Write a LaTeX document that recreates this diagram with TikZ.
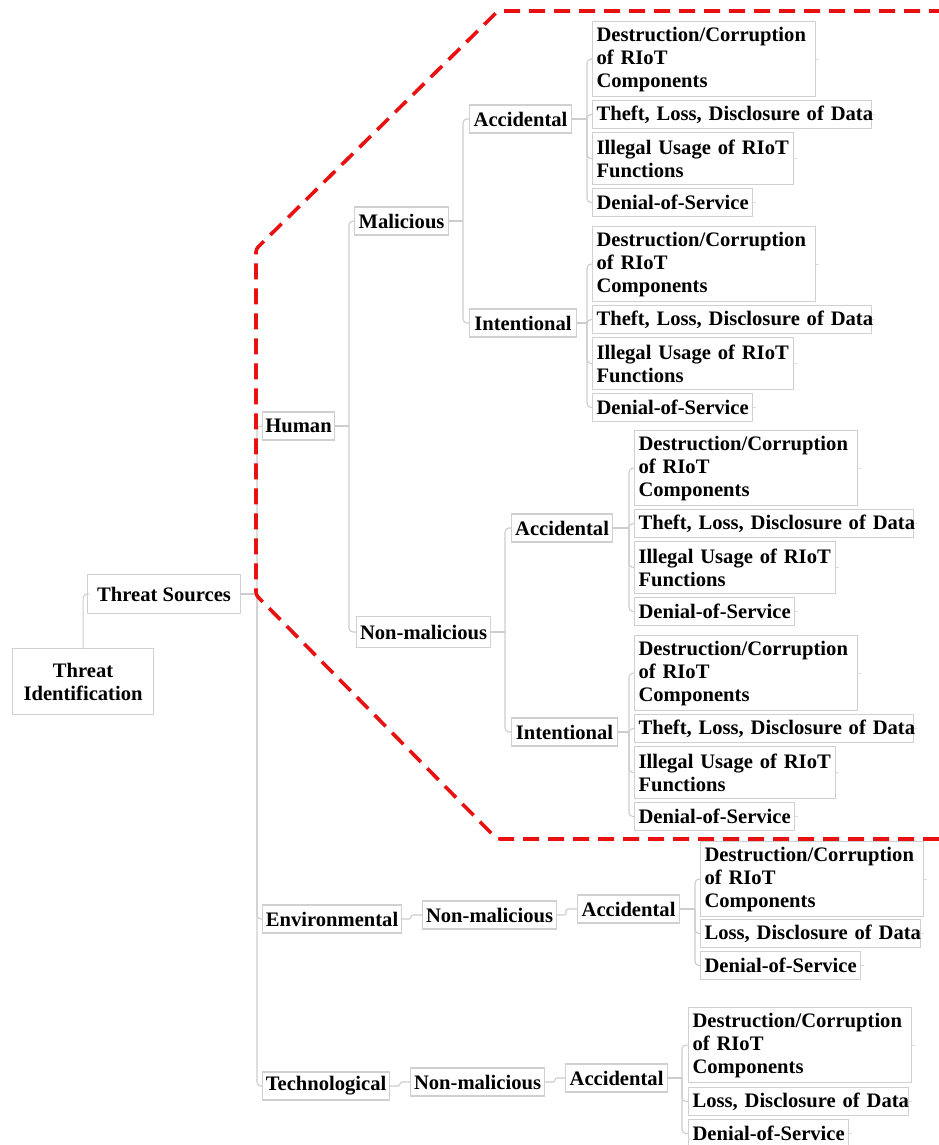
\documentclass[tikz,border=0pt]{standalone}
\usepackage{fontspec}
\setmainfont{Liberation Serif}
\definecolor{boxgray}{RGB}{208,208,208}
\definecolor{linkgray}{RGB}{205,205,205}
\definecolor{zonered}{RGB}{232,16,16}
\newcommand\lbl{\fontsize{20.6}{23}\selectfont\bfseries}
\tikzset{
  box/.style={draw=boxgray, line width=1.1pt, fill=white, font=\lbl,
    inner xsep=4pt, inner ysep=4pt, anchor=north west, align=left},
  mid/.style={draw=boxgray, line width=1.1pt, fill=white, font=\lbl,
    inner xsep=2pt, inner ysep=4pt, anchor=west, align=center, minimum height=28pt},
  link/.style={draw=linkgray, line width=1.1pt, rounded corners=4pt},
  jog/.style={draw=linkgray, line width=1.1pt, rounded corners=2pt},
  tail/.style={draw=linkgray!70, line width=0.8pt},
  zone/.style={draw=zonered, line width=3.6pt, dash pattern=on 16pt off 9pt, rounded corners=3pt}
}
\begin{document}
\begin{tikzpicture}[x=1pt, y=-1pt]
\useasboundingbox (0,0) rectangle (938,1145);

% spine positions
\coordinate (sTS) at (257,0);
\coordinate (sH) at (349,0);
\coordinate (sM) at (463,0);
\coordinate (sN) at (505,0);
\coordinate (sMA) at (587,0);
\coordinate (sNA) at (629,0);
\coordinate (sEA) at (695,0);
\coordinate (sTA) at (682,0);
\coordinate (jE1) at (411,0);
\coordinate (jE2) at (566,0);
\coordinate (jT1) at (400,0);
\coordinate (jT2) at (555,0);

% root and first level
\node[box, align=center, minimum width=141pt, minimum height=66pt] (ti) at (12,648) {Threat\\Identification};
\node[mid, minimum width=153pt, minimum height=39pt] (ts) at (87,594) {Threat Sources};
\node[mid, minimum width=72pt] (hum) at (262,426) {Human};
\node[mid, minimum width=139pt] (env) at (262,919) {Environmental};
\node[mid, minimum width=127pt] (tec) at (262,1086) {Technological};

% human branch
\node[mid, minimum width=94pt] (mal) at (354,221) {Malicious};
\node[mid, minimum width=134pt, minimum height=31pt] (nmal) at (356,632) {Non-malicious};
\node[mid, minimum width=102pt] (macc) at (469,119) {Accidental};
\node[mid, minimum width=107pt] (mint) at (469,323) {Intentional};
\node[mid, minimum width=101pt] (nacc) at (511,528) {Accidental};
\node[mid, minimum width=106pt] (nint) at (511,732) {Intentional};

% environmental and technological branches
\node[mid, minimum width=134pt] (enm) at (422,915) {Non-malicious};
\node[mid, minimum width=102pt] (eacc) at (577,909) {Accidental};
\node[mid, minimum width=134pt] (tnm) at (410,1082) {Non-malicious};
\node[mid, minimum width=102pt] (tacc) at (565,1078) {Accidental};

% threat leaves: group name, left x, tops of the four boxes
\foreach \g/\x/\ta/\tb/\tc/\td in {ma/592/21/100/132/188, mi/592/226/305/337/393, na/634/430/509/541/597, ni/634/635/714/746/802}{
  \node[box, text width=215pt, minimum height=75pt] (\g1) at (\x,\ta) {\mbox{Destruction/Corruption}\\of RIoT\\Components};
  \node[box, text width=271pt, minimum height=28pt] (\g2) at (\x,\tb) {\mbox{Theft, Loss, Disclosure of Data}};
  \node[box, text width=193pt, minimum height=52pt] (\g3) at (\x,\tc) {\mbox{Illegal Usage of RIoT}\\Functions};
  \node[box, text width=152pt, minimum height=28pt] (\g4) at (\x,\td) {\mbox{Denial-of-Service}};
}
\foreach \g/\x/\ta/\tb/\tc in {ea/700/841/919/951, ta/688/1007/1087/1119}{
  \node[box, text width=215pt, minimum height=75pt] (\g1) at (\x,\ta) {\mbox{Destruction/Corruption}\\of RIoT\\Components};
  \node[box, text width=212pt, minimum height=28pt] (\g2) at (\x,\tb) {\mbox{Loss, Disclosure of Data}};
  \node[box, text width=152pt, minimum height=28pt] (\g3) at (\x,\tc) {\mbox{Denial-of-Service}};
}

% small tails on the right of every box
\foreach \n in {ma1,ma2,ma3,ma4,mi1,mi2,mi3,mi4,na1,na2,na3,na4,ni1,ni2,ni3,ni4,ea1,ea2,ea3,ta1,ta2,ta3}
  \draw[tail] (\n.east) -- ++(3,0);

\begin{scope}[on background layer/.style={}]
% connectors
\draw[link] (ti.north) |- (ts.west);
\draw[link] (ts.east) -- (ts.east -| sTS);
\foreach \c in {hum,env,tec} \draw[link] (ts.east -| sTS) |- (\c.west);
\draw[link] (hum.east) -- (hum.east -| sH);
\foreach \c in {mal,nmal} \draw[link] (hum.east -| sH) |- (\c.west);
\draw[link] (mal.east) -- (mal.east -| sM);
\foreach \c in {macc,mint} \draw[link] (mal.east -| sM) |- (\c.west);
\draw[link] (nmal.east) -- (nmal.east -| sN);
\foreach \c in {nacc,nint} \draw[link] (nmal.east -| sN) |- (\c.west);
\draw[link] (macc.east) -- (macc.east -| sMA);
\foreach \c in {ma1,ma2,ma3,ma4} \draw[link] (macc.east -| sMA) |- (\c.west);
\draw[link] (mint.east) -- (mint.east -| sMA);
\foreach \c in {mi1,mi2,mi3,mi4} \draw[link] (mint.east -| sMA) |- (\c.west);
\draw[link] (nacc.east) -- (nacc.east -| sNA);
\foreach \c in {na1,na2,na3,na4} \draw[link] (nacc.east -| sNA) |- (\c.west);
\draw[link] (nint.east) -- (nint.east -| sNA);
\foreach \c in {ni1,ni2,ni3,ni4} \draw[link] (nint.east -| sNA) |- (\c.west);
\draw[jog] (env.east) -- (env.east -| jE1) |- (enm.west);
\draw[jog] (enm.east) -- (enm.east -| jE2) |- (eacc.west);
\draw[link] (eacc.east) -- (eacc.east -| sEA);
\foreach \c in {ea1,ea2,ea3} \draw[link] (eacc.east -| sEA) |- (\c.west);
\draw[jog] (tec.east) -- (tec.east -| jT1) |- (tnm.west);
\draw[jog] (tnm.east) -- (tnm.east -| jT2) |- (tacc.west);
\draw[link] (tacc.east) -- (tacc.east -| sTA);
\foreach \c in {ta1,ta2,ta3} \draw[link] (tacc.east -| sTA) |- (\c.west);
\end{scope}

% dashed outline around the human threat sources
\coordinate (z0) at (945,11);
\coordinate (z1) at (498,11);
\coordinate (z2) at (256,249);
\coordinate (z3) at (256,595);
\coordinate (z4) at (497,839);
\coordinate (z5) at (945,839);
\draw[zone] (z0) -- (z1) -- (z2) -- (z3) -- (z4) -- (z5);
\end{tikzpicture}
\end{document}
